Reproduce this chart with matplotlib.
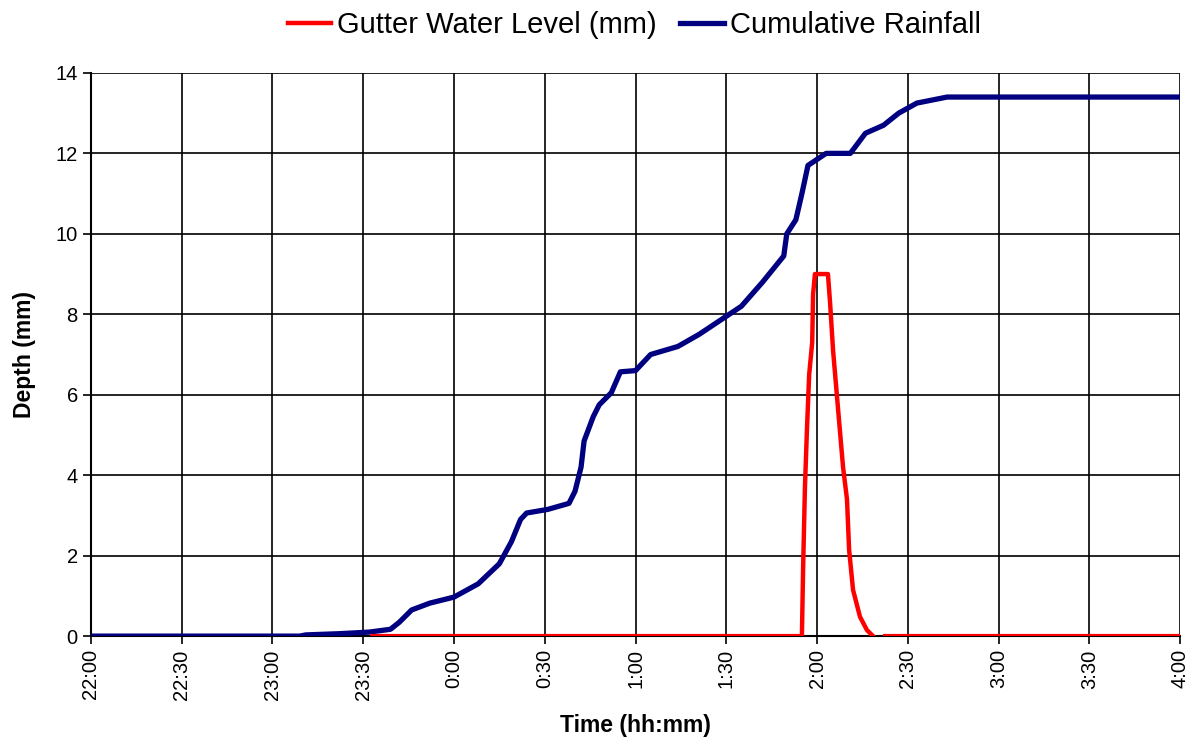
import numpy as np
import matplotlib.pyplot as plt

plt.rcParams['font.family'] = ['Liberation Sans', 'DejaVu Sans']

# Time in minutes after 22:00, depth in mm
rain_min = [0, 69, 71, 82, 92, 97, 99, 102, 106, 112, 120, 128, 135, 139, 142,
            144, 151, 158, 160, 162, 163, 166, 168, 172, 175, 180, 185, 194,
            201, 210, 215, 222, 229, 230, 233, 235, 237, 240, 243, 251, 256,
            262, 267, 273, 283, 360]
rain_mm = [0, 0, 0.03, 0.06, 0.1, 0.15, 0.17, 0.35, 0.65, 0.82, 0.97, 1.3, 1.8,
           2.35, 2.9, 3.06, 3.15, 3.3, 3.6, 4.2, 4.85, 5.45, 5.75, 6.05, 6.57,
           6.6, 7.0, 7.2, 7.5, 7.95, 8.2, 8.8, 9.45, 10.0, 10.35, 11.0, 11.7,
           11.85, 12.0, 12.0, 12.5, 12.7, 13.0, 13.25, 13.4, 13.4]

gutter_min = [93, 235, 235.4, 236, 236.7, 237.4, 238.4, 238.7, 239.3, 243.6,
              244.3, 245.3, 247, 248.6, 249.9, 250.6, 251.9, 254.2, 256.5,
              258.5, 260.5, 262.5, 360]
gutter_mm = [0, 0, 1.7, 3.7, 5.2, 6.5, 7.3, 8.5, 9.0, 9.0, 8.3, 7.1, 5.6, 4.2,
             3.4, 2.15, 1.15, 0.48, 0.15, 0, np.nan, 0, 0]

tick_min = list(range(0, 361, 30))
tick_labels = ['22:00', '22:30', '23:00', '23:30', '0:00', '0:30', '1:00',
               '1:30', '2:00', '2:30', '3:00', '3:30', '4:00']

fig = plt.figure(figsize=(11.92, 7.44), dpi=100)
ax = fig.add_axes([0.0763, 0.145, 0.9137, 0.757])

ax.plot(rain_min, rain_mm, color='#000080', lw=3.8,
        label='Cumulative Rainfall', zorder=3)
ax.plot(gutter_min, gutter_mm, color='#ff0000', lw=3.2,
        label='Gutter Water Level (mm)', zorder=4)

ax.set_xlim(0, 360)
ax.set_ylim(0, 14)
ax.set_xticks(tick_min)
ax.set_xticklabels(tick_labels, rotation=90, fontsize=14.5)
ax.set_yticks(range(0, 15, 2))
ax.tick_params(axis='y', labelsize=14.5)
ax.tick_params(direction='out', length=6, width=1.2, color='black')
ax.grid(True, color='black', lw=1.2)
ax.set_axisbelow(True)
for s in ['top', 'right']:
    ax.spines[s].set_visible(False)
for s in ['left', 'bottom']:
    ax.spines[s].set_linewidth(1.5)

ax.set_xlabel('Time (hh:mm)', fontsize=16.5, fontweight='bold', labelpad=10)
ax.set_ylabel('Depth (mm)', fontsize=16.5, fontweight='bold', labelpad=14)

h, l = ax.get_legend_handles_labels()
fig.legend(h[::-1], l[::-1], loc='center', bbox_to_anchor=(0.532, 0.966),
           ncol=2, frameon=False, fontsize=21, handlelength=1.5,
           handletextpad=0.2, columnspacing=0.8)

fig.savefig('out.png', dpi=100)
